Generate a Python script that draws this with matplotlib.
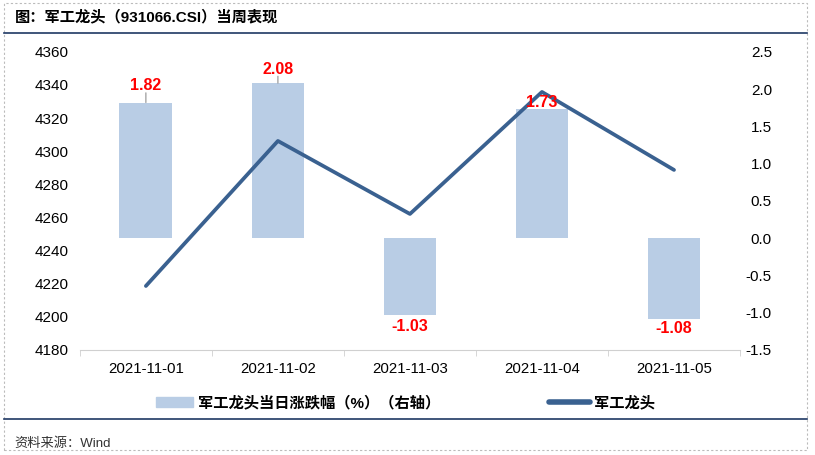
import numpy as np
import matplotlib.pyplot as plt
from matplotlib.patches import Rectangle
from matplotlib.lines import Line2D

plt.rcParams['font.family'] = ['Liberation Sans', 'Noto Sans CJK SC', 'DejaVu Sans']

dates = ['2021-11-01', '2021-11-02', '2021-11-03', '2021-11-04', '2021-11-05']
pct_change = [1.82, 2.08, -1.03, 1.73, -1.08]
close = [4218.6, 4306.2, 4262.1, 4335.8, 4288.7]

bar_color = '#B9CDE5'
line_color = '#3A6190'
navy = '#1F3864'

fig = plt.figure(figsize=(8.15, 4.55), dpi=100)
ax = fig.add_axes([0.098, 0.231, 0.81, 0.655])
ax2 = ax.twinx()

x = np.arange(len(dates))

# bars on right axis
ax2.bar(x, pct_change, width=0.4, color=bar_color, zorder=1)
ax2.set_ylim(-1.5, 2.5)
rticks = np.arange(-1.5, 2.51, 0.5)
ax2.set_yticks(rticks)
ax2.set_yticklabels(['%.1f' % v for v in rticks], ha='right')

# line on left axis, drawn above bars
ax.set_zorder(ax2.get_zorder() + 1)
ax.patch.set_visible(False)
ax.plot(x, close, color=line_color, lw=2.7, solid_capstyle='round', zorder=3)
ax.set_ylim(4180, 4360)
ax.set_yticks(np.arange(4180, 4361, 20))
ax.set_xlim(-0.5, len(dates) - 0.5)
ax.set_xticks(x)
ax.set_xticklabels(dates)
ax.set_xticks(np.arange(-0.5, len(dates), 1.0), minor=True)

for a in (ax, ax2):
    for s in ['top', 'left', 'right']:
        a.spines[s].set_visible(False)
    a.tick_params(axis='y', length=0, labelsize=11, colors='black')
ax2.spines['bottom'].set_visible(False)
ax.spines['bottom'].set_color('#D0D0D0')
ax.tick_params(axis='y', pad=8)
ax2.tick_params(axis='y', pad=23)
ax.tick_params(axis='x', which='major', length=0, labelsize=10.8, pad=9)
ax.tick_params(axis='x', which='minor', length=4, color='#D0D0D0')

# value labels (drawn on top of the line)
offsets = [12, 10, -8.6, 5, -7.2]
for i, v in enumerate(pct_change):
    off = offsets[i]
    ax.annotate('%.2f' % v, xy=(x[i], v), xycoords=ax2.transData, xytext=(0, off),
                textcoords='offset points', ha='center', va='center', color='red',
                fontsize=11.5, fontweight='bold', zorder=5)
    if v > 0 and off > 8:
        ax2.annotate('', xy=(x[i], v), xytext=(0, off - 5), textcoords='offset points',
                     arrowprops=dict(arrowstyle='-', color='#909090', lw=0.8,
                                     shrinkA=0, shrinkB=0))

# legend, two entries placed separately
leg_kw = dict(loc='center left', frameon=False, borderpad=0, borderaxespad=0,
              handleheight=0.55, prop={'size': 11, 'weight': 'bold'})
fig.legend([Rectangle((0, 0), 1, 1, color=bar_color)], ['军工龙头当日涨跌幅（%）（右轴）'],
           bbox_to_anchor=(0.1914, 0.1143), handlelength=2.42, handletextpad=0.33, **leg_kw)
fig.legend([Line2D([0], [0], color=line_color, lw=4, solid_capstyle='round')], ['军工龙头'],
           bbox_to_anchor=(0.6736, 0.1143), handlelength=2.68, handletextpad=0.26, **leg_kw)

# title, rules, source
fig.text(0.018, 0.962, '图：军工龙头（931066.CSI）当周表现', fontsize=11,
         fontweight='bold', va='center', ha='left')
fig.add_artist(Line2D([0.005, 0.990], [0.927, 0.927], color=navy, lw=1.2))
fig.add_artist(Line2D([0.005, 0.990], [0.0791, 0.0791], color=navy, lw=1.2))
fig.text(0.018, 0.026, '资料来源：Wind', fontsize=9.5, va='center', ha='left', color='#333333')
fig.patches.append(Rectangle((0.005, 0.011), 0.985, 0.982, transform=fig.transFigure,
                             fill=False, ls=(0, (2, 2)), lw=0.8, ec='#BBBBBB'))

fig.savefig('out.png', dpi=100)
